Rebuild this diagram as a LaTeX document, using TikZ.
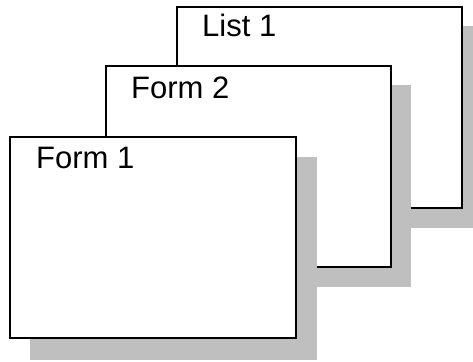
\documentclass[tikz,border=0pt]{standalone}
\usepackage{fontspec}
\setmainfont{Liberation Sans}
\begin{document}
\begin{tikzpicture}[x=1pt,y=-1pt,
  card/.style={draw=black,fill=white,line width=1.5pt},
  shade/.style={fill=black!25,draw=none},
  lbl/.style={anchor=base west,inner sep=0pt,font=\fontsize{31}{37}\selectfont}]
\useasboundingbox (0,0) rectangle (473,361);
% List 1
\fill[shade] (182,26) rectangle (482,228);
\draw[card] (177,7) rectangle (462,208);
\node[lbl] (l1) at (202,37) {List 1};
% Form 2
\fill[shade] (126,85) rectangle (411,287);
\draw[card] (106,66) rectangle (391,267);
\node[lbl] (f2) at (131,98) {Form 2};
% Form 1
\fill[shade] (30,157) rectangle (317,360);
\draw[card] (10,137) rectangle (296,338);
\node[lbl] (f1) at (36,168) {Form 1};
\end{tikzpicture}
\end{document}
